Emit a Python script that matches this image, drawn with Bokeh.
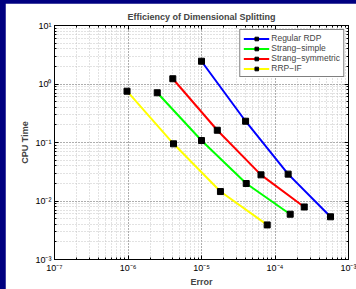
from bokeh.plotting import figure
from bokeh.models import (Range1d, LogAxis, LogTicker, CustomJSTickFormatter, Legend, LegendItem)
from bokeh.embed import file_html
from bokeh.resources import INLINE

# ---- data ----
err_rdp = [1.0e-5, 3.98e-5, 1.51e-4, 5.69e-4]
cpu_rdp = [2.45, 0.231, 0.0288, 0.00537]
err_simple = [2.5e-6, 1.0e-5, 4.06e-5, 1.61e-4]
cpu_simple = [0.708, 0.108, 0.0199, 0.00594]
err_sym = [4.07e-6, 1.64e-5, 6.45e-5, 2.5e-4]
cpu_sym = [1.23, 0.162, 0.028, 0.0079]
err_if = [9.7e-7, 4.16e-6, 1.81e-5, 7.83e-5]
cpu_if = [0.753, 0.095, 0.0145, 0.0039]

series_names = ["Regular RDP", "Strang\u2212simple", "Strang\u2212symmetric", "RRP\u2212IF"]
series_colors = ["#0000ff", "#00ff00", "#ff0000", "#ffff00"]
series_x = [err_rdp, err_simple, err_sym, err_if]
series_y = [cpu_rdp, cpu_simple, cpu_sym, cpu_if]

title_text = "Efficiency of Dimensional Splitting"
x_label = "Error"
y_label = "CPU Time"

FONT = "Liberation Sans"

p = figure(width=351, height=286, x_axis_type="log", y_axis_type="log",
           x_range=Range1d(1e-7, 1e-3), y_range=Range1d(1e-3, 10),
           output_backend="svg", toolbar_location=None,
           min_border_left=49, min_border_right=8, min_border_top=22, min_border_bottom=30)

p.title.text = title_text
p.title.align = "center"
p.title.text_font = FONT
p.title.text_font_size = "9px"
p.title.text_font_style = "bold"
p.title.standoff = 7
p.title.offset = 0

fmt_code = """
const sup = {'-':'\u207b','0':'\u2070','1':'\u00b9','2':'\u00b2','3':'\u00b3','4':'\u2074',
             '5':'\u2075','6':'\u2076','7':'\u2077','8':'\u2078','9':'\u2079'};
const e = Math.round(Math.log10(tick));
return '10' + String(e).split('').map(c => sup[c]).join('');
"""

def style_axis(ax, show_labels=True):
    ax.ticker = LogTicker(desired_num_ticks=5, num_minor_ticks=10)
    ax.axis_line_color = "black"
    ax.axis_line_width = 1
    ax.major_tick_in = 4
    ax.major_tick_out = 0
    ax.minor_tick_in = 2
    ax.minor_tick_out = 0
    ax.major_tick_line_color = "black"
    ax.minor_tick_line_color = "black"
    ax.major_label_text_font = FONT
    ax.major_label_text_color = "black"
    if show_labels:
        ax.formatter = CustomJSTickFormatter(code=fmt_code)
        ax.major_label_text_font_size = "9px"
        ax.major_label_standoff = 3
    else:
        ax.major_label_text_font_size = "1px"
        ax.major_label_text_alpha = 0
        ax.major_label_standoff = 0

for ax in p.xaxis:
    style_axis(ax)
    ax.axis_label = x_label
    ax.axis_label_text_font = FONT
    ax.axis_label_text_font_size = "9px"
    ax.axis_label_text_font_style = "bold"
    ax.axis_label_standoff = 1
for ax in p.yaxis:
    style_axis(ax)
    ax.axis_label = y_label
    ax.axis_label_text_font = FONT
    ax.axis_label_text_font_size = "9px"
    ax.axis_label_text_font_style = "bold"
    ax.axis_label_standoff = 2

top_ax = LogAxis()
style_axis(top_ax, show_labels=False)
p.add_layout(top_ax, "above")
right_ax = LogAxis()
style_axis(right_ax, show_labels=False)
p.add_layout(right_ax, "right")

for g in (p.xgrid, p.ygrid):
    g.grid_line_color = "#888888"
    g.grid_line_dash = "1 2"
    g.grid_line_width = 1
    g.minor_grid_line_color = "#c4c4c4"
    g.minor_grid_line_dash = "1 2"
    g.minor_grid_line_width = 1

p.outline_line_color = "black"
p.outline_line_width = 1
p.background_fill_color = "white"
p.border_fill_color = "white"

items = []
for name, col, xs, ys in zip(series_names, series_colors, series_x, series_y):
    r1 = p.line(xs, ys, line_color=col, line_width=2)
    r2 = p.scatter(xs, ys, marker="square", size=6, fill_color="black", line_color="black")
    items.append(LegendItem(label=name, renderers=[r1, r2]))

legend = Legend(items=items, location="top_right")
legend.label_text_font = FONT
legend.label_text_font_size = "8.5px"
legend.label_height = 9
legend.glyph_height = 9
legend.glyph_width = 26
legend.label_standoff = 2
legend.spacing = 0
legend.padding = 3
legend.margin = 4
legend.border_line_color = "black"
legend.border_line_width = 1
legend.background_fill_color = "white"
legend.background_fill_alpha = 1
p.add_layout(legend)

html = file_html(p, INLINE)
css = "<style>html,body{overflow:hidden;} body{margin:3px 0 0 5px !important;background:#000080 !important;}</style>"
html = html.replace("</head>", css + "</head>", 1)
open("out.html", "w").write(html)
